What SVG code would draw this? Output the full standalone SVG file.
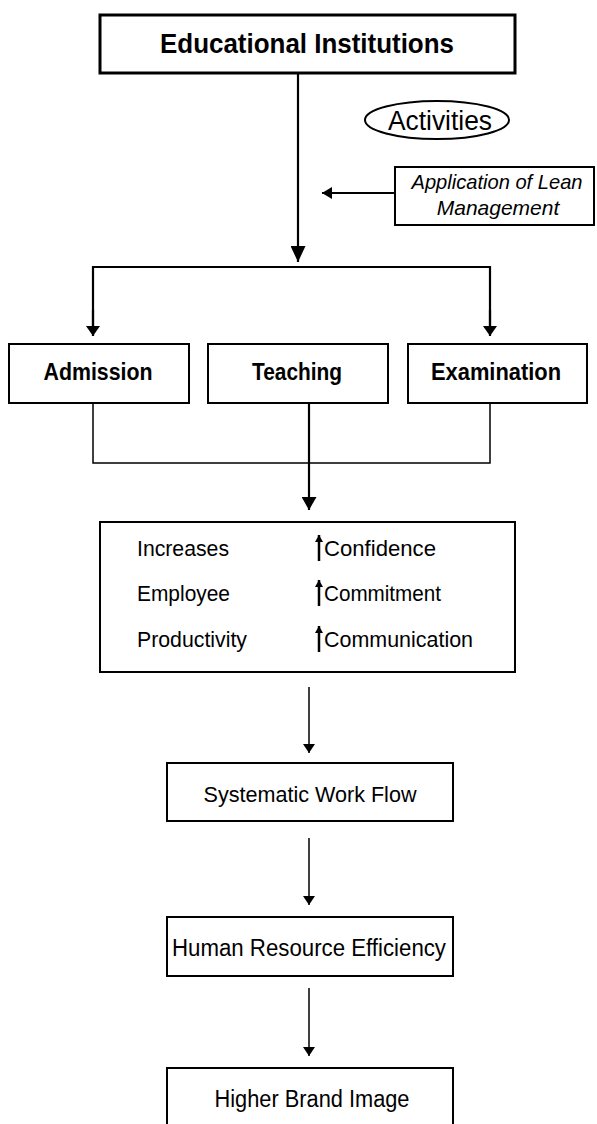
<svg xmlns="http://www.w3.org/2000/svg" width="597" height="1124" viewBox="0 0 597 1124">
<style>
.box{fill:#fff;stroke:#000;stroke-width:2}
.t{font-family:"Liberation Sans",Arial,sans-serif;fill:#000}
.b{font-weight:bold}
.c{text-anchor:middle}
.ln{stroke:#000;stroke-width:2.2;fill:none}
.thin{stroke:#000;stroke-width:1.5;fill:none}
.up{stroke:#000;stroke-width:2.5;fill:none}
</style>
<defs>
<marker id="big" markerUnits="userSpaceOnUse" markerWidth="16" markerHeight="15" refX="16" refY="7.5" orient="auto"><path d="M0,0 L16,7.5 L0,15 z" fill="#000"/></marker>
<marker id="br" markerUnits="userSpaceOnUse" markerWidth="10" markerHeight="14" refX="10" refY="7" orient="auto"><path d="M0,0 L10,7 L0,14 z" fill="#000"/></marker>
<marker id="tch" markerUnits="userSpaceOnUse" markerWidth="13" markerHeight="15" refX="13" refY="7.5" orient="auto"><path d="M0,0 L13,7.5 L0,15 z" fill="#000"/></marker>
<marker id="mid" markerUnits="userSpaceOnUse" markerWidth="10" markerHeight="12" refX="10" refY="6" orient="auto"><path d="M0,0 L10,6 L0,12 z" fill="#000"/></marker>
<marker id="sm" markerUnits="userSpaceOnUse" markerWidth="9" markerHeight="12" refX="9" refY="6" orient="auto"><path d="M0,0 L9,6 L0,12 z" fill="#000"/></marker>
<marker id="tiny" markerUnits="userSpaceOnUse" markerWidth="7" markerHeight="8" refX="7" refY="4" orient="auto"><path d="M0,0 L7,4 L0,8 z" fill="#000"/></marker>
</defs>

<g id="connectors">
<line class="ln" x1="298" y1="73" x2="298" y2="262" marker-end="url(#big)"/>
<line class="ln" x1="395" y1="193" x2="322" y2="193" marker-end="url(#mid)"/>
<polyline class="ln" points="93,330 93,267 490,267 490,330"/>
<line class="ln" x1="93" y1="310" x2="93" y2="336" marker-end="url(#br)"/>
<line class="ln" x1="490" y1="310" x2="490" y2="336" marker-end="url(#br)"/>
<polyline class="thin" points="93,403 93,463 490,463 490,403"/>
<line class="ln" x1="309" y1="403" x2="309" y2="510" marker-end="url(#tch)"/>
<line class="thin" x1="309" y1="687" x2="309" y2="753" marker-end="url(#sm)"/>
<line class="thin" x1="309" y1="838" x2="309" y2="905" marker-end="url(#sm)"/>
<line class="thin" x1="309" y1="988" x2="309" y2="1056" marker-end="url(#sm)"/>
</g>

<g id="educational-institutions">
<rect x="100" y="15" width="415" height="58" fill="#fff" stroke="#000" stroke-width="3"/>
<text class="t b c" x="307" y="53" font-size="27" textLength="294" lengthAdjust="spacingAndGlyphs">Educational Institutions</text>
</g>

<g id="activities">
<ellipse cx="437" cy="120" rx="72" ry="19" fill="#fff" stroke="#000" stroke-width="2"/>
<text class="t c" x="440" y="130" font-size="27" textLength="104" lengthAdjust="spacingAndGlyphs">Activities</text>
</g>

<g id="lean-management">
<rect class="box" x="395" y="167" width="199" height="58"/>
<text class="t c" x="497" y="189" font-size="21" font-style="italic" textLength="171" lengthAdjust="spacingAndGlyphs">Application of Lean</text>
<text class="t c" x="498" y="215" font-size="21" font-style="italic">Management</text>
</g>

<g id="admission">
<rect class="box" x="9" y="344" width="180" height="59"/>
<text class="t b c" x="98" y="380" font-size="24" textLength="109" lengthAdjust="spacingAndGlyphs">Admission</text>
</g>

<g id="teaching">
<rect class="box" x="208" y="344" width="180" height="59"/>
<text class="t b c" x="297" y="380" font-size="24" textLength="90" lengthAdjust="spacingAndGlyphs">Teaching</text>
</g>

<g id="examination">
<rect class="box" x="408" y="344" width="179" height="59"/>
<text class="t b c" x="496" y="380" font-size="24" textLength="130" lengthAdjust="spacingAndGlyphs">Examination</text>
</g>

<g id="productivity">
<rect class="box" x="100" y="522" width="415" height="150"/>
<text class="t" x="137" y="556" font-size="22" textLength="92" lengthAdjust="spacingAndGlyphs">Increases</text>
<text class="t" x="137" y="601" font-size="22" textLength="93" lengthAdjust="spacingAndGlyphs">Employee</text>
<text class="t" x="137" y="647" font-size="22" textLength="110" lengthAdjust="spacingAndGlyphs">Productivity</text>
<line class="up" x1="319" y1="561" x2="319" y2="535" marker-end="url(#tiny)"/>
<line class="up" x1="319" y1="606" x2="319" y2="580" marker-end="url(#tiny)"/>
<line class="up" x1="319" y1="652" x2="319" y2="626" marker-end="url(#tiny)"/>
<text class="t" x="324" y="556" font-size="22" textLength="112" lengthAdjust="spacingAndGlyphs">Confidence</text>
<text class="t" x="324" y="601" font-size="22" textLength="117" lengthAdjust="spacingAndGlyphs">Commitment</text>
<text class="t" x="324" y="647" font-size="22" textLength="149" lengthAdjust="spacingAndGlyphs">Communication</text>
</g>

<g id="systematic-work-flow">
<rect class="box" x="167" y="763" width="286" height="58"/>
<text class="t c" x="310" y="802" font-size="22" textLength="213" lengthAdjust="spacingAndGlyphs">Systematic Work Flow</text>
</g>

<g id="human-resource-efficiency">
<rect class="box" x="167" y="917" width="286" height="59"/>
<text class="t c" x="309" y="956" font-size="23" textLength="274" lengthAdjust="spacingAndGlyphs">Human Resource Efficiency</text>
</g>

<g id="higher-brand-image">
<rect class="box" x="167" y="1068" width="286" height="70"/>
<text class="t c" x="312" y="1107" font-size="23" textLength="195" lengthAdjust="spacingAndGlyphs">Higher Brand Image</text>
</g>
</svg>
